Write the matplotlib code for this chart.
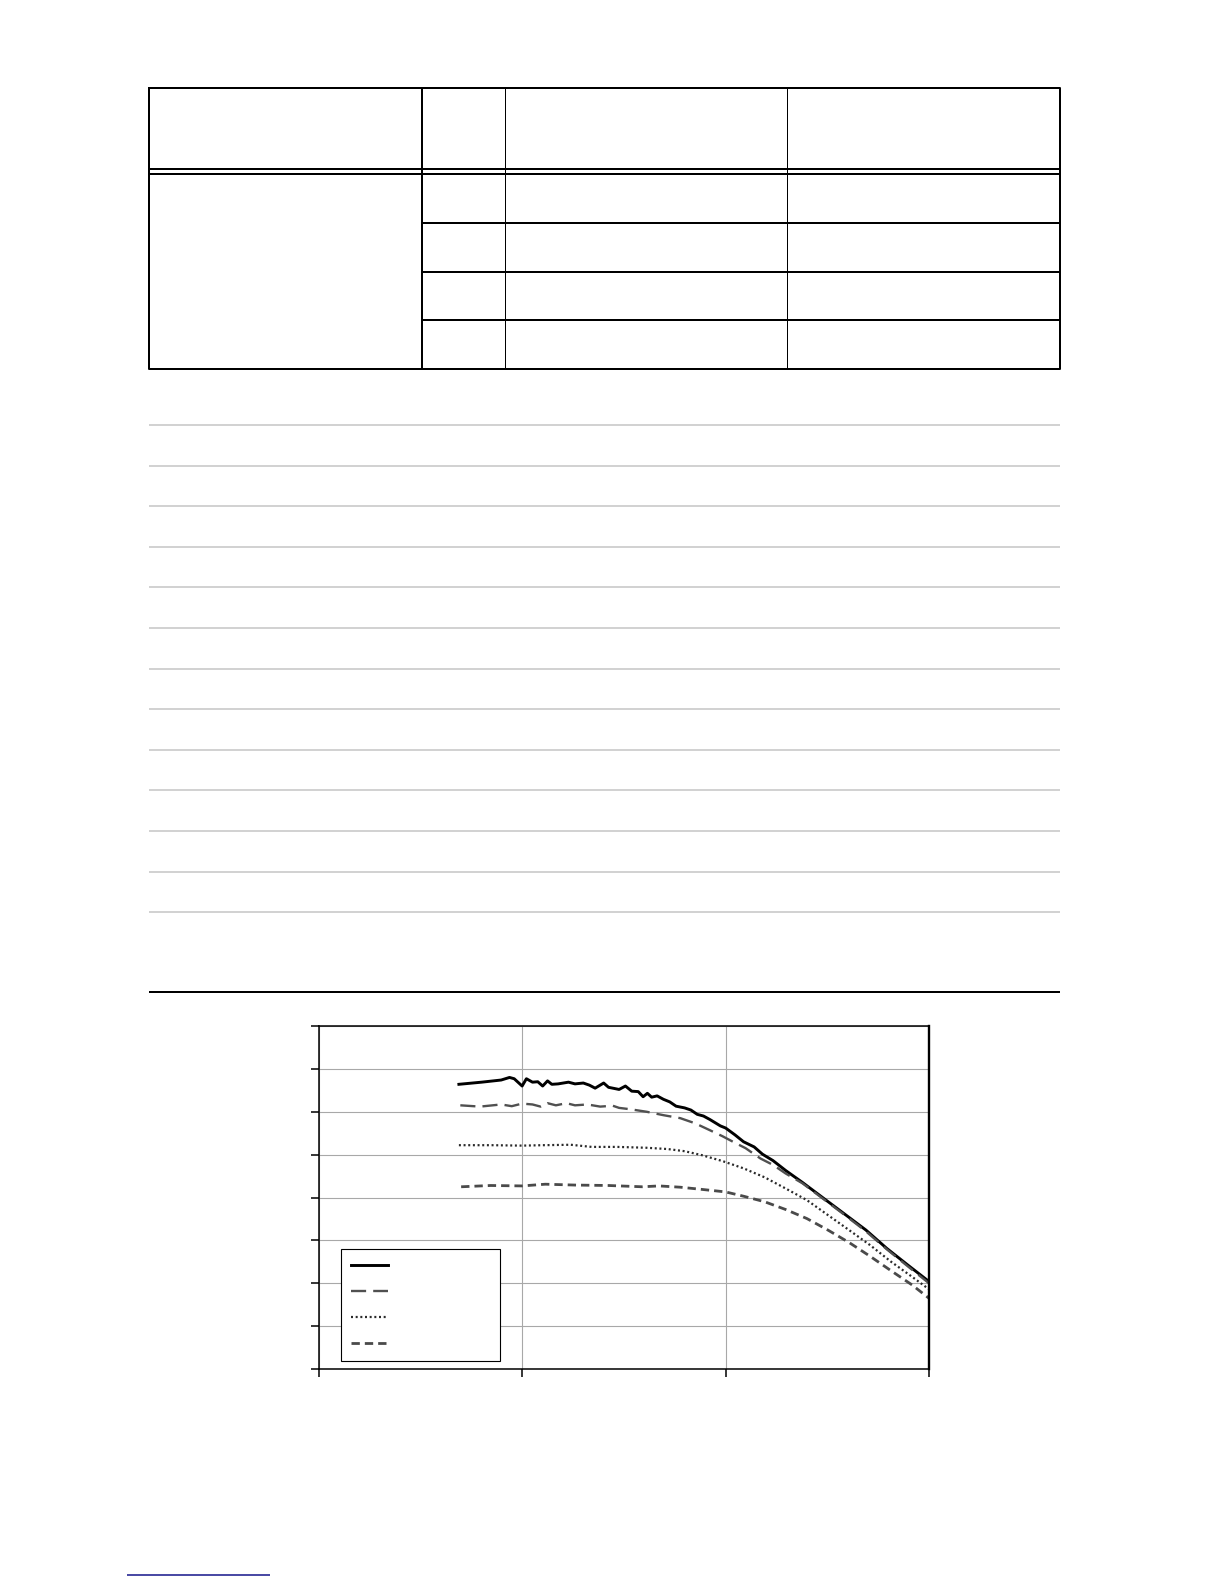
import numpy as np
import matplotlib
matplotlib.use("Agg")
import matplotlib.pyplot as plt

# Curves, x in decades across the plot, y in grid units (0..8)
solid_x = [0.688, 0.80, 0.896, 0.937, 0.96, 0.999, 1.02, 1.05, 1.076, 1.10, 1.124, 1.145,
           1.176, 1.227, 1.259, 1.30, 1.33, 1.358, 1.40, 1.424, 1.476, 1.507, 1.538, 1.57,
           1.594, 1.615, 1.636, 1.663, 1.694, 1.725, 1.756, 1.798, 1.829, 1.86, 1.891, 1.922,
           1.974, 2.0, 2.046, 2.088, 2.14, 2.181, 2.233, 2.295, 2.378, 2.482, 2.586, 2.69,
           2.793, 2.897, 3.0]
solid_y = [6.64, 6.69, 6.74, 6.80, 6.77, 6.60, 6.77, 6.69, 6.70, 6.60, 6.72, 6.64,
           6.65, 6.69, 6.65, 6.67, 6.62, 6.55, 6.67, 6.57, 6.52, 6.60, 6.48, 6.47,
           6.35, 6.43, 6.34, 6.37, 6.29, 6.23, 6.13, 6.09, 6.04, 5.94, 5.90, 5.82,
           5.67, 5.62, 5.46, 5.30, 5.18, 5.01, 4.86, 4.63, 4.35, 3.98, 3.61, 3.24,
           2.81, 2.42, 2.04]

longdash_x = [0.695, 0.792, 0.896, 0.948, 0.999, 1.05, 1.09, 1.124, 1.165, 1.217, 1.259,
              1.32, 1.383, 1.445, 1.476, 1.528, 1.611, 1.694, 1.777, 1.85, 1.922, 1.984,
              2.036, 2.098, 2.171, 2.233, 2.295, 2.378, 2.482, 2.586, 2.69, 2.793, 2.897, 3.0]
longdash_y = [6.15, 6.12, 6.17, 6.13, 6.19, 6.17, 6.12, 6.20, 6.15, 6.20, 6.15,
              6.17, 6.12, 6.14, 6.09, 6.06, 6.00, 5.92, 5.85, 5.73, 5.57, 5.43,
              5.30, 5.15, 4.91, 4.76, 4.56, 4.33, 3.96, 3.59, 3.21, 2.79, 2.39, 2.00]

dotted_x = [0.688, 0.85, 0.999, 1.10, 1.238, 1.341, 1.466, 1.611, 1.715, 1.798, 1.881,
            1.984, 2.088, 2.192, 2.295, 2.399, 2.503, 2.607, 2.71, 2.814, 2.917, 3.0]
dotted_y = [5.22, 5.22, 5.21, 5.22, 5.23, 5.18, 5.18, 5.16, 5.13, 5.08, 4.99,
            4.85, 4.68, 4.47, 4.21, 3.94, 3.59, 3.24, 2.89, 2.50, 2.15, 1.86]

shortdash_x = [0.699, 0.844, 0.999, 1.113, 1.259, 1.424, 1.59, 1.673, 1.777, 1.881, 2.0,
               2.088, 2.192, 2.295, 2.399, 2.503, 2.607, 2.71, 2.814, 2.917, 3.0]
shortdash_y = [4.25, 4.28, 4.27, 4.31, 4.29, 4.28, 4.25, 4.27, 4.24, 4.19, 4.13,
               4.03, 3.90, 3.72, 3.51, 3.24, 2.95, 2.63, 2.29, 1.96, 1.65]

x_ticks = [0, 1, 2, 3]
y_ticks = [0, 1, 2, 3, 4, 5, 6, 7, 8]

W, H = 1224, 1584
PX = 0.72  # points per pixel at dpi 100

fig = plt.figure(figsize=(W / 100, H / 100), dpi=100)

# page layer (table and rules), pixel coords
page = fig.add_axes([0, 0, 1, 1], zorder=0)
page.set_xlim(0, W)
page.set_ylim(H, 0)
page.axis("off")

tl, tr, ttop, tbot = 149, 1060, 88, 369
col_thick = 422
col_thin = [505, 787]
head_lines = [169, 174]
row_lines = [223, 272, 320]

page.plot([tl, tr, tr, tl, tl], [ttop, ttop, tbot, tbot, ttop], color="black", lw=2 * PX)
page.vlines(col_thick, ttop, tbot, color="black", lw=2 * PX)
page.vlines(col_thin, ttop, tbot, color="black", lw=1 * PX)
page.hlines(head_lines, tl, tr, color="black", lw=2 * PX)
page.hlines(row_lines, col_thick, tr, color="black", lw=2 * PX)

rule_y = [425 + i * 40.6 for i in range(13)]
page.hlines(rule_y, tl, tr, color="#c8c8c8", lw=1.6 * PX)
page.hlines(992, tl, tr, color="black", lw=2 * PX)

page.hlines(1575, 127, 270, color="#1f1f8f", lw=1.6 * PX)

# chart
ax = fig.add_axes([319 / W, 1 - 1369 / H, 610 / W, 343 / H], zorder=1)
ax.set_xlim(0, 3)
ax.set_ylim(0, 8)
ax.set_xticks(x_ticks)
ax.set_yticks(y_ticks)
ax.tick_params(direction="out", length=5.5, width=1.1, labelleft=False, labelbottom=False,
               color="black")
ax.grid(True, color="#a8a8a8", lw=0.8)
ax.set_axisbelow(True)
for s in ["left", "top", "bottom"]:
    ax.spines[s].set_linewidth(1.1)
ax.spines["right"].set_linewidth(1.7)

l1, = ax.plot(solid_x, solid_y, color="black", lw=2.1, solid_joinstyle="round")
l2, = ax.plot(longdash_x, longdash_y, color="#505050", lw=1.7, dashes=(6.4, 3.0))
l3, = ax.plot(dotted_x, dotted_y, color="#2a2a2a", lw=1.6, dashes=(0.9, 1.2))
l4, = ax.plot(shortdash_x, shortdash_y, color="#4a4a4a", lw=2.0, dashes=(3.0, 1.8))

leg = ax.legend([l1, l2, l3, l4], [" ", " ", " ", " "], loc="upper left",
                bbox_to_anchor=(0.036, 0.351, 0.26, 0.0), mode="expand", borderaxespad=0,
                fontsize=10, handlelength=2.66, labelspacing=0.85, borderpad=0.75,
                fancybox=False, framealpha=1, edgecolor="black")
leg.get_frame().set_linewidth(0.8)

fig.savefig("out.png", dpi=100)
